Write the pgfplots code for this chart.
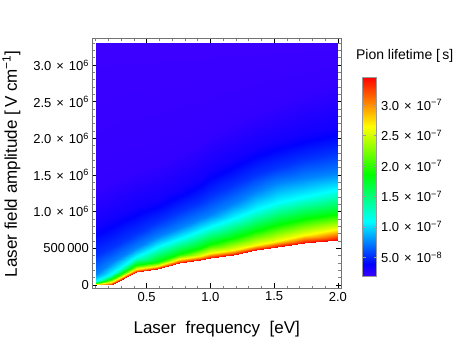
\documentclass[border=0pt]{standalone}
\usepackage{fontspec}
\setmainfont{Liberation Sans}
\usepackage{pgfplots}
\usepackage{pgfplotstable}
\pgfplotsset{compat=1.18}
\newcommand{\sci}[2]{#1\hspace{5pt}×\hspace{5pt}10\textsuperscript{#2}}

% lifetime in 1e-8 s, amplitude in 1e6 V/cm; one scanline per frequency,
% starting at the lower edge of the computed region
\pgfplotstableread{
f    E      tau
0.10 0.000  34.6
0.10 0.015  26.4
0.10 0.030  18.6
0.10 0.060  11.0
0.10 0.150  7.5
0.10 0.400  5.3
0.10 0.800  3.3
0.10 1.300  2.2
0.10 3.300  1.9
0.22 0.000  34.6
0.22 0.040  26.4
0.22 0.080  18.6
0.22 0.150  11.0
0.22 0.300  7.5
0.22 0.500  5.3
0.22 0.900  3.3
0.22 1.400  2.2
0.22 3.300  1.9
0.42 0.180  34.6
0.42 0.220  26.4
0.42 0.270  18.6
0.42 0.380  11.0
0.42 0.500  7.5
0.42 0.700  5.3
0.42 1.050  3.3
0.42 1.550  2.2
0.42 3.300  1.9
0.58 0.214  34.6
0.58 0.260  26.4
0.58 0.320  18.6
0.58 0.520  11.0
0.58 0.660  7.5
0.58 0.850  5.3
0.58 1.150  3.3
0.58 1.650  2.2
0.58 3.300  1.9
0.75 0.304  34.6
0.75 0.350  26.4
0.75 0.420  18.6
0.75 0.630  11.0
0.75 0.780  7.5
0.75 1.000  5.3
0.75 1.300  3.3
0.75 1.800  2.2
0.75 3.300  1.9
0.92 0.340  34.6
0.92 0.400  26.4
0.92 0.510  18.6
0.92 0.740  11.0
0.92 0.900  7.5
0.92 1.120  5.3
0.92 1.450  3.3
0.92 1.950  2.2
0.92 3.300  1.9
1.00 0.372  34.6
1.00 0.440  26.4
1.00 0.560  18.6
1.00 0.790  11.0
1.00 0.950  7.5
1.00 1.200  5.3
1.00 1.550  3.3
1.00 2.050  2.2
1.00 3.300  1.9
1.18 0.410  34.6
1.18 0.480  26.4
1.18 0.640  18.6
1.18 0.900  11.0
1.18 1.100  7.5
1.18 1.350  5.3
1.18 1.700  3.3
1.18 2.200  2.2
1.18 3.300  1.9
1.36 0.477  34.6
1.36 0.550  26.4
1.36 0.740  18.6
1.36 1.020  11.0
1.36 1.270  7.5
1.36 1.500  5.3
1.36 1.850  3.3
1.36 2.350  2.2
1.36 3.300  1.9
1.52 0.520  34.6
1.52 0.600  26.4
1.52 0.820  18.6
1.52 1.120  11.0
1.52 1.390  7.5
1.52 1.600  5.3
1.52 1.950  3.3
1.52 2.450  2.2
1.52 3.300  1.9
1.73 0.577  34.6
1.73 0.680  26.4
1.73 0.900  18.6
1.73 1.200  11.0
1.73 1.460  7.5
1.73 1.700  5.3
1.73 2.050  3.3
1.73 2.600  2.2
1.73 3.300  1.9
2.00 0.614  34.6
2.00 0.760  26.4
2.00 0.970  18.6
2.00 1.300  11.0
2.00 1.530  7.5
2.00 1.800  5.3
2.00 2.150  3.3
2.00 2.750  2.2
2.00 3.300  1.9
}\lifetime

\begin{document}
\begin{tikzpicture}
\begin{axis}[
  scale only axis, width=248.5pt, height=249.5pt,
  xmin=0.075, xmax=2.024, ymin=-0.048, ymax=3.356,
  xtick={0.5,1,1.5,2}, xticklabels={0.5,1.0,1.5,2.0},
  minor xtick={0.1,0.2,...,2.0},
  ytick={0,0.5,1,1.5,2,2.5,3},
  yticklabels={0,500\,000,\sci{1.0}{6},\sci{1.5}{6},\sci{2.0}{6},\sci{2.5}{6},\sci{3.0}{6}},
  minor ytick={0.1,0.2,...,3.3},
  tick align=inside, major tick length=5pt, minor tick length=2.5pt,
  major tick style={black, line width=0.6pt},
  minor tick style={black!50, line width=0.6pt},
  axis line style={black!55, line width=1pt},
  tick label style={font=\fontsize{13}{15}\selectfont},
  xlabel={Laser\ \ frequency\ \ [eV]},
  ylabel={Laser field amplitude [\,V cm\textsuperscript{−1}]},
  label style={font=\fontsize{17}{19}\selectfont},
  xlabel style={at={(axis description cs:0.5,-0.182)}, anchor=base},
  ylabel style={at={(axis description cs:-0.304,0.5)}, anchor=base},
  colormap={mma}{rgb255(0pt)=(60,0,255) rgb255(6pt)=(0,0,255)
    rgb255(27.5pt)=(0,255,255) rgb255(51pt)=(0,255,0)
    rgb255(75pt)=(255,255,0) rgb255(100pt)=(255,0,0)},
  point meta min=1.9, point meta max=34.6,
  colorbar,
  colorbar style={
    at={(parent axis.north east)}, anchor=north west,
    xshift=13pt, yshift=-38pt,
    scale only axis, width=14pt, height=199pt,
    ytick={5,10,15,20,25,30},
    yticklabels={\sci{5.0}{−8},\sci{1.0}{−7},\sci{1.5}{−7},\sci{2.0}{−7},\sci{2.5}{−7},\sci{3.0}{−7}},
    yticklabel style={font=\fontsize{13}{15}\selectfont, xshift=1pt},
    major tick length=3pt, major tick style={black!40},
    axis line style={black!40, line width=0.6pt},
    title={Pion lifetime [\,s]},
    title style={at={(0,1)}, anchor=base west, xshift=-10pt, yshift=11pt,
      font=\fontsize{14}{16}\selectfont},
  },
]
\addplot[surf, shader=interp, mesh/rows=12, mesh/cols=9, point meta=\thisrow{tau}]
  table[x=f, y=E] {\lifetime};
\coordinate (bl) at (rel axis cs:0,0);
\coordinate (tr) at (rel axis cs:1,1);
\end{axis}
\pgfresetboundingbox
\path[use as bounding box] ([shift={(-92.5pt,-63.5pt)}]bl) rectangle ([shift={(117pt,39pt)}]tr);
\end{tikzpicture}
\end{document}
